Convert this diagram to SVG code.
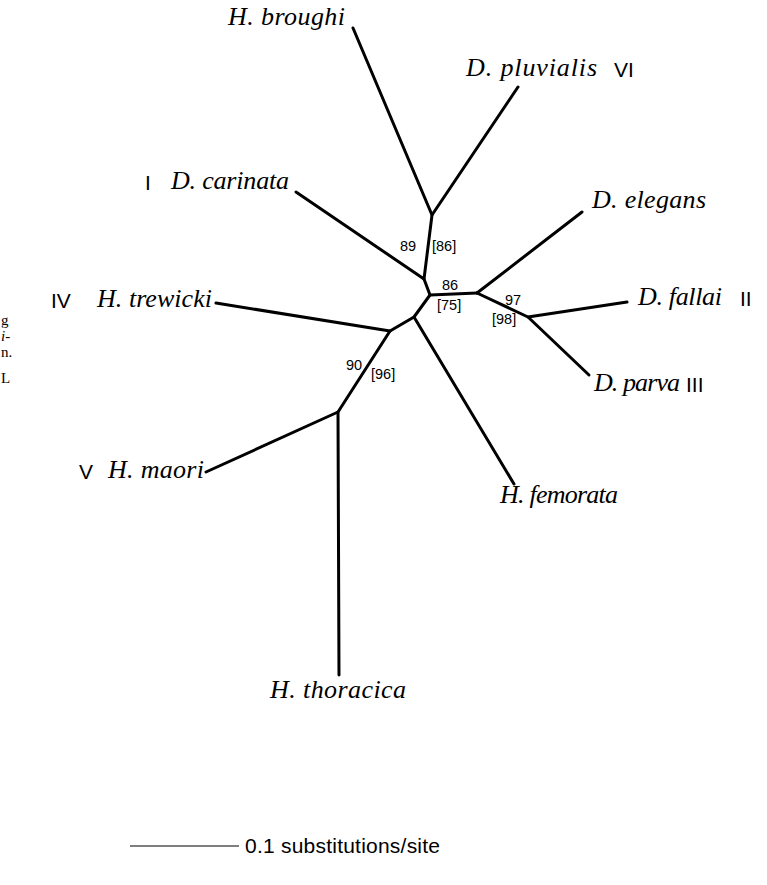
<svg xmlns="http://www.w3.org/2000/svg" width="767" height="885" viewBox="0 0 767 885">
<style>
.br{stroke:#000;stroke-width:3;fill:none;stroke-linecap:round;stroke-linejoin:round}
.sp{font-family:"Liberation Serif","Times New Roman",serif;font-style:italic;font-size:26px;fill:#000}
.rn{font-family:"Liberation Sans",Arial,sans-serif;font-size:21px;fill:#000}
.bs{font-family:"Liberation Sans",Arial,sans-serif;font-size:14.5px;fill:#000}
.cap{font-family:"Liberation Serif","Times New Roman",serif;font-size:15px;fill:#000}
</style>
<rect width="767" height="885" fill="#fff"/>
<g id="caption-fragment">
<text class="cap" x="1" y="325">g</text>
<text class="cap" x="1" y="341" font-style="italic">i-</text>
<text class="cap" x="1" y="357">n.</text>
<text class="cap" x="1" y="383">L</text>
</g>
<g id="connectors">
<path class="br" d="M353,28 L432,215 L518,87"/>
<path class="br" d="M432,215 L424,279 L296,192"/>
<path class="br" d="M424,279 L430,295 L477,293"/>
<path class="br" d="M477,293 L582,212"/>
<path class="br" d="M477,293 L528,317 L627,302"/>
<path class="br" d="M528,317 L589,375"/>
<path class="br" d="M430,295 L414,317 L514,484"/>
<path class="br" d="M414,317 L390,331 L216,303"/>
<path class="br" d="M390,331 L338,412 L206,472"/>
<path class="br" d="M338,412 L339,675"/>
</g>
<g id="support">
<text class="bs" x="400" y="251">89</text>
<text class="bs" x="432" y="251">[86]</text>
<text class="bs" x="442" y="290">86</text>
<text class="bs" x="437" y="310">[75]</text>
<text class="bs" x="505" y="305">97</text>
<text class="bs" x="492" y="324">[98]</text>
<text class="bs" x="346" y="370">90</text>
<text class="bs" x="371" y="379">[96]</text>
</g>
<g id="n-broughi"><text class="sp" x="228" y="25" textLength="117" lengthAdjust="spacing">H. broughi</text></g>
<g id="n-pluvialis"><text class="sp" x="466" y="76" textLength="131" lengthAdjust="spacing">D. pluvialis</text><text class="rn" x="614" y="77">VI</text></g>
<g id="n-carinata"><text class="rn" x="145" y="190">I</text><text class="sp" x="171" y="189" textLength="118" lengthAdjust="spacing">D. carinata</text></g>
<g id="n-elegans"><text class="sp" x="592" y="208" textLength="114" lengthAdjust="spacing">D. elegans</text></g>
<g id="n-trewicki"><text class="rn" x="51" y="308">IV</text><text class="sp" x="97" y="307" textLength="115" lengthAdjust="spacing">H. trewicki</text></g>
<g id="n-fallai"><text class="sp" x="638" y="305" textLength="84" lengthAdjust="spacing">D. fallai</text><text class="rn" x="740" y="306">II</text></g>
<g id="n-parva"><text class="sp" x="594" y="391" textLength="86" lengthAdjust="spacing">D. parva</text><text class="rn" x="686" y="392">III</text></g>
<g id="n-maori"><text class="rn" x="79" y="479">V</text><text class="sp" x="108" y="478" textLength="96" lengthAdjust="spacing">H. maori</text></g>
<g id="n-femorata"><text class="sp" x="500" y="503" textLength="118" lengthAdjust="spacing">H. femorata</text></g>
<g id="n-thoracica"><text class="sp" x="270" y="698" textLength="136" lengthAdjust="spacing">H. thoracica</text></g>
<g id="scale">
<line x1="130" y1="846" x2="239" y2="846" stroke="#000" stroke-width="1.2"/>
<text x="245" y="853" font-family="Liberation Sans, Arial, sans-serif" font-size="21" fill="#000" textLength="195" lengthAdjust="spacing">0.1 substitutions/site</text>
</g>
</svg>
